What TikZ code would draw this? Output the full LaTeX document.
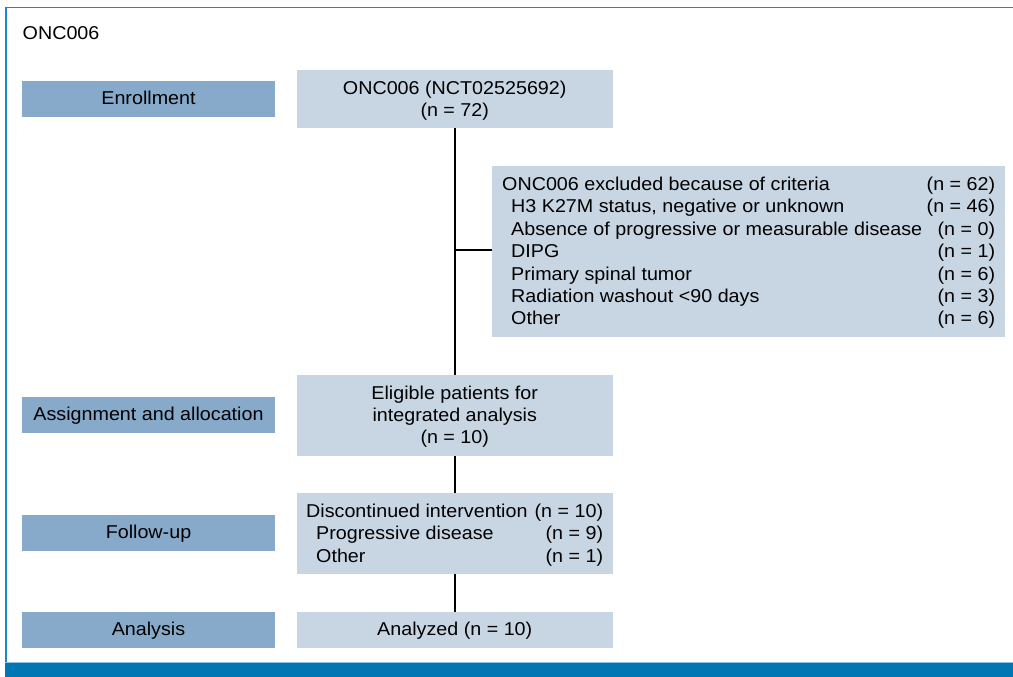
\documentclass[tikz,border=0pt]{standalone}
\usepackage{fontspec}
\setmainfont{Liberation Sans}[FakeStretch=1.06]
\newcommand{\mainfs}{\fontsize{18.6pt}{22.4pt}\selectfont}
\definecolor{stagecol}{RGB}{135,170,203}
\definecolor{boxcol}{RGB}{200,214,228}
\definecolor{barcol}{RGB}{0,119,180}
\definecolor{framecol}{RGB}{30,135,195}
\definecolor{edgecol}{RGB}{140,195,225}
\begin{document}
\begin{tikzpicture}[x=1pt,y=-1pt,
  every node/.style={inner sep=0pt, font=\mainfs},
  stage/.style={fill=stagecol, minimum width=253pt, minimum height=36pt, text height=11pt, text depth=0pt},
  flowbox/.style={fill=boxcol, minimum width=315.5pt},
  trunk/.style={line width=1.8pt, black}]
\useasboundingbox (0,0) rectangle (1013,677);
% frame
\draw[framecol, line width=1.6pt, line join=miter] (5.8,662) -- (5.8,7.5) -- (1013,7.5);
\fill[barcol] (5,662) rectangle (1013,677);
\draw[edgecol, line width=0.8pt] (5,662) -- (1013,662);
% title
\node[anchor=base west] (title) at (22.5,39.3) {ONC006};
% stage labels
\node[stage] (enr) at (148.5,99.5) {Enrollment};
\node[stage] (asg) at (148.5,414.7) {Assignment and allocation};
\node[stage] (fol) at (148.5,532.9) {Follow-up};
\node[stage] (ana) at (148.5,629.9) {Analysis};
% flow boxes
\node[flowbox, minimum height=58pt] (onc) at (454.75,99) {};
\node[flowbox, minimum height=81pt] (elig) at (454.75,415.5) {};
\node[flowbox, minimum height=80.5pt] (disc) at (454.75,533.25) {};
\node[flowbox, minimum height=36pt, text height=11pt, text depth=0pt] (anz) at (454.75,630) {Analyzed (n = 10)};
\node[fill=boxcol, minimum width=513pt, minimum height=170.7pt] (excl) at (748.5,251.35) {};
% texts
\node[anchor=base] (onctxt) at (454.75,94.5) {\begin{tabular}[t]{@{}c@{}}ONC006 (NCT02525692)\\(n = 72)\end{tabular}};
\node[anchor=base] (eligtxt) at (454.75,399) {\begin{tabular}[t]{@{}c@{}}Eligible patients for\\integrated analysis\\(n = 10)\end{tabular}};
\node[anchor=base west] (disctxt) at (306,517.5) {\begin{tabular*}{297pt}[t]{@{}l@{\extracolsep{\fill}}r@{}}
Discontinued intervention & (n = 10)\\
\hspace*{10pt}Progressive disease & (n = 9)\\
\hspace*{10pt}Other & (n = 1)
\end{tabular*}};
\node[anchor=base west] (excltxt) at (502,190.5) {\begin{tabular*}{493pt}[t]{@{}l@{\extracolsep{\fill}}r@{}}
ONC006 excluded because of criteria & (n = 62)\\
\hspace*{9pt}H3 K27M status, negative or unknown & (n = 46)\\
\hspace*{9pt}Absence of progressive or measurable disease & (n = 0)\\
\hspace*{9pt}DIPG & (n = 1)\\
\hspace*{9pt}Primary spinal tumor & (n = 6)\\
\hspace*{9pt}Radiation washout <90 days & (n = 3)\\
\hspace*{9pt}Other & (n = 6)
\end{tabular*}};
% connectors
\draw[trunk] (onc.south) -- (elig.north);
\draw[trunk] (elig.south) -- (disc.north);
\draw[trunk] (disc.south) -- (anz.north);
\coordinate (br) at (454.75,250);
\draw[trunk] (br) -- (br -| excl.west);
\end{tikzpicture}
\end{document}
